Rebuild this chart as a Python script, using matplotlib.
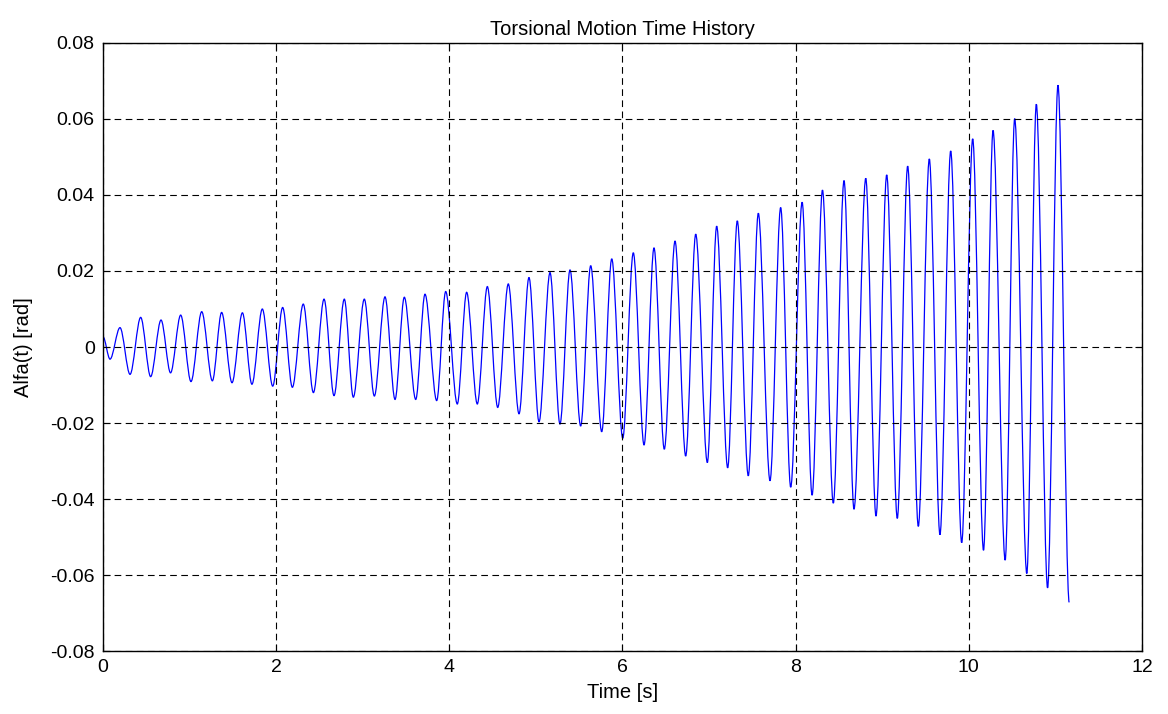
import numpy as np
import matplotlib
matplotlib.use("Agg")
import matplotlib.pyplot as plt
from matplotlib.path import Path
from matplotlib.patches import PathPatch

plt.rcParams['font.family'] = ['Liberation Sans', 'DejaVu Sans']

# peaks and troughs of the torsional angle
t_ext = [0.0, 0.081, 0.196, 0.312, 0.435, 0.55, 0.67, 0.78, 0.897, 1.016,
         1.14, 1.263, 1.37, 1.49, 1.61, 1.72, 1.84, 1.96, 2.075, 2.187,
         2.313, 2.43, 2.553, 2.668, 2.787, 2.891, 3.018, 3.134, 3.257, 3.373,
         3.48, 3.612, 3.719, 3.854, 3.958, 4.092, 4.20, 4.323, 4.439, 4.559,
         4.681, 4.805, 4.92, 5.036, 5.163, 5.278, 5.394, 5.517, 5.633, 5.76,
         5.876, 6.003, 6.125, 6.249, 6.364, 6.483, 6.607, 6.73, 6.846, 6.98,
         7.088, 7.215, 7.326, 7.453, 7.569, 7.704, 7.827, 7.943, 8.075, 8.19,
         8.31, 8.435, 8.559, 8.674, 8.81, 8.928, 9.052, 9.174, 9.294, 9.417,
         9.544, 9.667, 9.791, 9.918, 10.045, 10.17, 10.28, 10.42, 10.53, 10.67,
         10.78, 10.91, 11.03, 11.16]
alfa_ext = [0.0027, -0.0032, 0.0051, -0.0072, 0.0078, -0.0078, 0.0071, -0.0068, 0.0084, -0.0091,
            0.0093, -0.0089, 0.0091, -0.0094, 0.0090, -0.0098, 0.0100, -0.0103, 0.0104, -0.0106,
            0.0113, -0.0120, 0.0126, -0.0128, 0.0126, -0.0132, 0.0126, -0.0129, 0.0132, -0.0138,
            0.0131, -0.0138, 0.0139, -0.0141, 0.0146, -0.0150, 0.0144, -0.0150, 0.0159, -0.0159,
            0.0166, -0.0176, 0.0183, -0.0197, 0.0196, -0.0203, 0.0203, -0.0208, 0.0214, -0.0223,
            0.0232, -0.0240, 0.0248, -0.0258, 0.0261, -0.0269, 0.0279, -0.0287, 0.0297, -0.0304,
            0.0318, -0.0318, 0.0332, -0.0339, 0.0352, -0.0352, 0.0367, -0.0369, 0.0381, -0.0390,
            0.0413, -0.0411, 0.0438, -0.0427, 0.0444, -0.0445, 0.0453, -0.0451, 0.0476, -0.0472,
            0.0495, -0.0494, 0.0516, -0.0515, 0.0548, -0.0535, 0.0570, -0.0561, 0.0601, -0.0596,
            0.0639, -0.0634, 0.0689, -0.0672]

xticks = [0, 2, 4, 6, 8, 10, 12]
yticks = [-0.08, -0.06, -0.04, -0.02, 0, 0.02, 0.04, 0.06, 0.08]
ytick_labels = ['-0.08', '-0.06', '-0.04', '-0.02', '0', '0.02', '0.04', '0.06', '0.08']

fig = plt.figure(figsize=(11.68, 7.14), dpi=100)
ax = fig.add_axes([0.0882, 0.0882, 0.8895, 0.8516])

# smooth half-waves between successive extremes (flat tangent at each extreme)
verts = [(t_ext[0], alfa_ext[0])]
codes = [Path.MOVETO]
for i in range(1, len(t_ext)):
    t0, a0 = t_ext[i - 1], alfa_ext[i - 1]
    t1, a1 = t_ext[i], alfa_ext[i]
    dt = t1 - t0
    verts += [(t0 + dt / 3, a0), (t1 - dt / 3, a1), (t1, a1)]
    codes += [Path.CURVE4] * 3
ax.add_patch(PathPatch(Path(verts, codes), fill=False, edgecolor='#0000ff', lw=0.9))

ax.set_xlim(0, 12)
ax.set_ylim(-0.08, 0.08)
ax.set_xticks(xticks)
ax.set_xticklabels([str(x) for x in xticks])
ax.set_yticks(yticks)
ax.set_yticklabels(ytick_labels)
ax.grid(True, color='black', linestyle=(0, (6, 4)), lw=0.8)
ax.tick_params(direction='in', top=True, right=True, labelsize=14, length=5, pad=6)
for s in ax.spines.values():
    s.set_linewidth(1.0)

ax.set_title('Torsional Motion Time History', fontsize=14.5, pad=6)
ax.set_xlabel('Time [s]', fontsize=14.5, labelpad=5)
ax.set_ylabel('Alfa(t) [rad]', fontsize=14.5, labelpad=12)

fig.savefig('out.png', dpi=100)
